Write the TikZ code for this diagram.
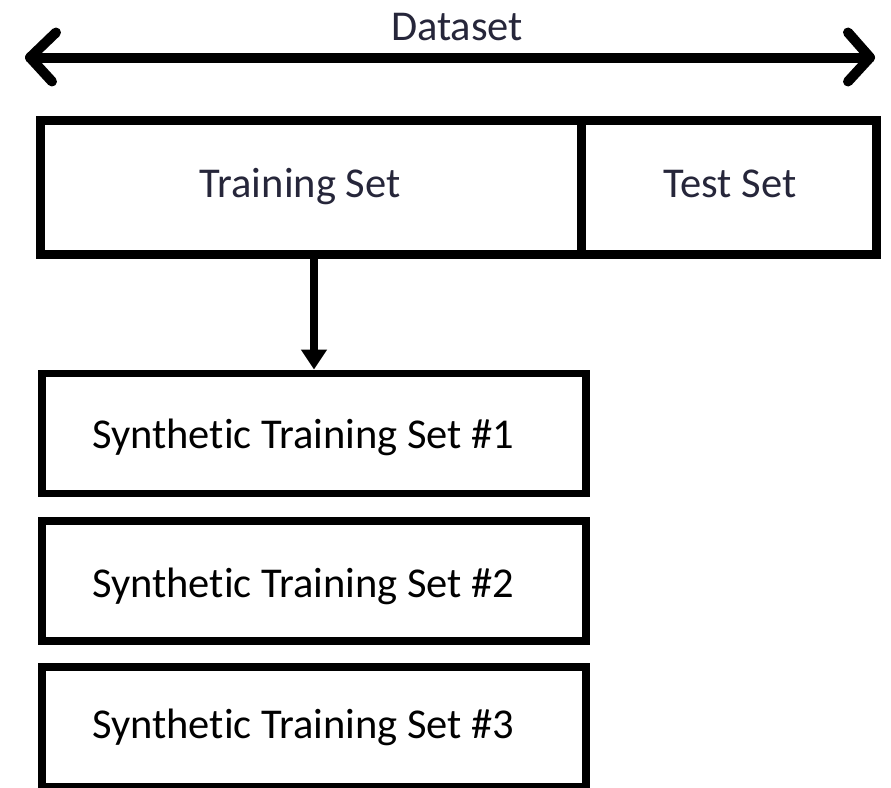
\documentclass[tikz,border=0pt]{standalone}
\usepackage{fontspec}
\setmainfont[Ligatures=CommonOff]{Carlito}
\usetikzlibrary{arrows.meta,calc}
\definecolor{txtdark}{RGB}{38,38,58}
\begin{document}
\begin{tikzpicture}[x=1pt,y=-1pt,
  topbox/.style={draw=black,line width=9pt,inner sep=0pt,minimum height=134.5pt},
  synbox/.style={draw=black,line width=7.5pt,inner sep=0pt,minimum width=544pt,minimum height=120pt},
  lbl/.style={font=\fontsize{42.5}{50}\selectfont,inner sep=0pt,anchor=base},
  dsline/.style={line width=10pt,line cap=round,line join=round},
  downarrow/.style={line width=8pt,-{Triangle[length=20pt,width=25pt]}}]
\useasboundingbox (0,0) rectangle (891,787);
% top boxes
\node[topbox,minimum width=541pt] (train) at (310.5,187.25) {};
\node[topbox,minimum width=295pt] (test) at (728.5,187.25) {};
% synthetic boxes
\node[synbox] (s1) at (314,433.25) {};
\node[synbox] (s2) at (314,580.75) {};
\node[synbox] (s3) at (314,727) {};
% labels
\node[lbl,text=txtdark] (ds) at (457,40) {Dataset};
\node[lbl,text=txtdark] (trl) at (300,197) {Training Set};
\node[lbl,text=txtdark] (tel) at (730,197) {Test Set};
\node[lbl,anchor=base west] (l1) at (92,448) {Synthetic Training Set \#1};
\node[lbl,anchor=base west] (l2) at (92,597) {Synthetic Training Set \#2};
\node[lbl,anchor=base west] (l3) at (92,738) {Synthetic Training Set \#3};
% dataset double arrow
\coordinate (dl) at (30,57.5);
\coordinate (dr) at (870,57.5);
\draw[dsline] (dl) -- (dr);
\draw[dsline] ($(dl)+(26,-25)$) -- (dl) -- ($(dl)+(22,24)$);
\draw[dsline] ($(dr)+(-22,-25)$) -- (dr) -- ($(dr)+(-22,24)$);
% down arrow
\draw[downarrow] (train.south -| s1.north) -- (s1.north);
\end{tikzpicture}
\end{document}
